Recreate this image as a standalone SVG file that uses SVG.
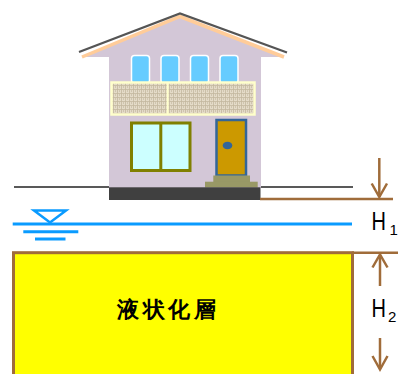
<svg xmlns="http://www.w3.org/2000/svg" width="398" height="374" viewBox="0 0 398 374">
  <defs>
    <style>
      .brown { stroke: #A06C3A; fill: none; stroke-width: 2.5; }
      .water { stroke: #0A9BFF; fill: none; stroke-width: 3; }
      .label { font-family: "Liberation Sans", Arial, sans-serif; fill: #000; }
      .upper-win { fill: #66CCFF; stroke: #FFFFFF; stroke-width: 1.5; }
      .step { fill: #999966; }
    </style>
    <!-- woven texture of the balcony rail -->
    <pattern id="weave" width="4" height="4" patternUnits="userSpaceOnUse">
      <rect width="4" height="4" fill="#E4DBC8"/>
      <path d="M0,1.5 H4 M1.5,0 V4" stroke="#C4B89E" stroke-width="0.8"/>
      <path d="M3,3 h1" stroke="#B0A488" stroke-width="0.8"/>
    </pattern>
  </defs>

  <rect width="398" height="374" fill="#FFFFFF"/>

  <!-- ground surface -->
  <g id="ground">
    <line x1="14" y1="187" x2="353" y2="187" stroke="#595959" stroke-width="2"/>
  </g>

  <!-- house -->
  <g id="house">
    <polygon points="83,57 180,17 284,57" fill="#D3C7D7"/>
    <rect x="109" y="55" width="152" height="133" fill="#D3C7D7"/>
    <polyline points="82,57 180,16.5 284,57" fill="none" stroke="#FFCC99" stroke-width="3.5" stroke-linejoin="miter"/>
    <polyline points="79,52 180,13.5 287,52.5" fill="none" stroke="#555555" stroke-width="2.2"/>

    <rect class="upper-win" x="131.5" y="55.5" width="18" height="28" rx="3"/>
    <rect class="upper-win" x="161" y="55.5" width="18" height="28" rx="3"/>
    <rect class="upper-win" x="190.5" y="55.5" width="18" height="28" rx="3"/>
    <rect class="upper-win" x="220" y="55.5" width="18" height="28" rx="3"/>

    <rect x="111.5" y="82.5" width="143" height="32" fill="url(#weave)" stroke="#FFFFCC" stroke-width="2.5"/>
    <line x1="167.7" y1="82.5" x2="167.7" y2="114.5" stroke="#FFFFCC" stroke-width="2"/>

    <rect x="131.5" y="123" width="58.5" height="47.5" fill="#CCFFFF" stroke="#808000" stroke-width="3"/>
    <line x1="160.8" y1="123" x2="160.8" y2="170.5" stroke="#808000" stroke-width="3"/>

    <rect x="216.5" y="120" width="29.5" height="55.5" fill="#CC9900" stroke="#336699" stroke-width="2.5"/>
    <ellipse cx="227.5" cy="145.5" rx="4.8" ry="3.8" fill="#336699"/>

    <rect class="step" x="213.3" y="175.5" width="36.7" height="6.5"/>
    <rect class="step" x="205" y="181.7" width="52.7" height="5.8"/>

    <rect x="109" y="187.3" width="151.5" height="12.7" fill="#404040"/>
  </g>

  <!-- groundwater table -->
  <g id="water-table">
    <line class="water" x1="12.7" y1="224" x2="352" y2="224"/>
    <path d="M34,210.5 H66 L50,222.5 Z" fill="#FFFFFF" stroke="#0A9BFF" stroke-width="2.5" stroke-linejoin="miter"/>
    <line class="water" x1="23.3" y1="231.7" x2="78.3" y2="231.7"/>
    <line class="water" x1="35" y1="239" x2="65.5" y2="239"/>
  </g>

  <!-- liquefiable layer -->
  <g id="liquefied-layer">
    <rect x="13.5" y="252.7" width="339" height="130" fill="#FFFF00" stroke="#A06C3A" stroke-width="3"/>
    <text class="label" x="168" y="316.5" font-size="22" font-weight="bold" text-anchor="middle" letter-spacing="3.5" font-family="'Noto Sans CJK JP', 'Noto Sans CJK SC', sans-serif">液状化層</text>
  </g>

  <!-- depth dimensions -->
  <g id="dimensions">
    <line class="brown" x1="260" y1="199" x2="393" y2="199"/>
    <line class="brown" x1="379.3" y1="158" x2="379.3" y2="197"/>
    <path class="brown" d="M371.7,183.5 L379.3,197 L387,183.5"/>

    <line class="brown" x1="352" y1="252.7" x2="398" y2="252.7"/>
    <line class="brown" x1="380" y1="255" x2="380" y2="286"/>
    <path class="brown" d="M372.5,267.5 L380,254.5 L387.5,267.5"/>
    <line class="brown" x1="380" y1="338" x2="380" y2="368"/>
    <path class="brown" d="M372.5,356 L380,369.5 L387.5,356"/>
  </g>

  <g id="dimension-labels">
    <text class="label" transform="translate(371.5,230) scale(0.8,1)" font-size="25">H</text>
    <text class="label" x="389.5" y="235" font-size="15">1</text>
    <text class="label" transform="translate(371.5,317) scale(0.8,1)" font-size="25">H</text>
    <text class="label" x="388" y="322" font-size="15">2</text>
  </g>
</svg>
